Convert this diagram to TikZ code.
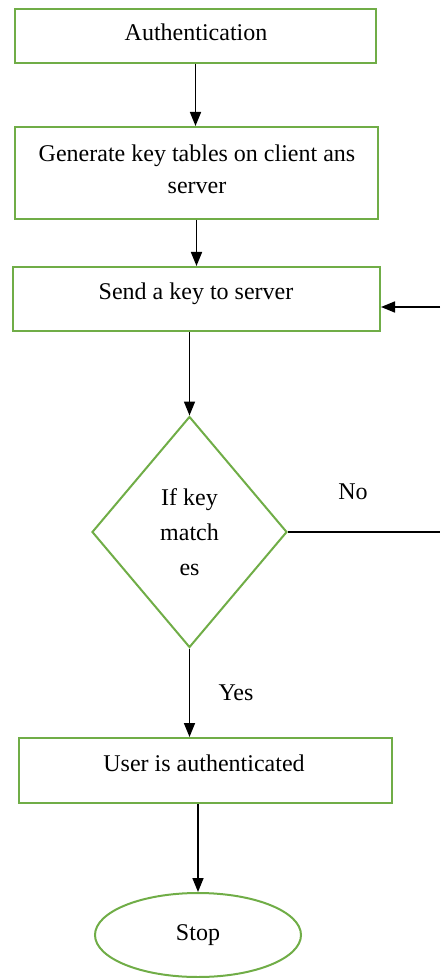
\documentclass[tikz,border=0pt]{standalone}
\usepackage{fontspec}
\setmainfont{Liberation Serif}
\usetikzlibrary{shapes.geometric,arrows.meta}
\definecolor{boxgreen}{RGB}{112,173,71}
\begin{document}
\begin{tikzpicture} [x=0.5pt,y=-0.5pt,
    font=\fontsize{12}{16}\selectfont,
    block/.style={draw=boxgreen,line width=1pt,rectangle,align=center,inner sep=2pt},
    flow/.style={line width=0.8pt,black,-{Triangle[length=7pt,width=5.5pt]}}]
    \useasboundingbox (0,0) rectangle (440,978);
    \node[block,minimum width=180.5pt,minimum height=27pt] (auth) at (195.5,36) {};
    \node (authtxt) at (196,32) {Authentication};
    \node[block,minimum width=181.5pt,minimum height=46pt] (gen) at (196.5,173) {};
    \node[align=center] (gentxt) at (197,169) {Generate key tables on client ans\\server};
    \node[block,minimum width=183.5pt,minimum height=32pt] (send) at (196.5,299) {};
    \node (sendtxt) at (196,294) {Send a key to server};
    \node[draw=boxgreen,line width=1pt,diamond,inner sep=0pt,minimum width=97.5pt,minimum height=115.5pt,align=center,
        font=\fontsize{12}{17.5}\selectfont] (match) at (189.5,532) {If key\\match\\es};
    \node[block,minimum width=186.5pt,minimum height=32.5pt] (user) at (205.5,770.5) {};
    \node (usertxt) at (204,763) {User is authenticated};
    \node[draw=boxgreen,line width=1pt,ellipse,minimum width=103pt,minimum height=42pt] (stop) at (198,935) {Stop};
    \node (no) at (353,492) {No};
    \node (yes) at (236,693) {Yes};
    \coordinate (noend) at (440,532);
    \coordinate (back) at (440,307);
    \draw[flow] (auth.south) -- (auth.south |- gen.north);
    \draw[flow] (gen.south) -- (gen.south |- send.north);
    \draw[flow] (match.north |- send.south) -- (match.north);
    \draw[flow] (match.south) -- (match.south |- user.north);
    \draw[flow] (stop.north |- user.south) -- (stop.north);
    \draw[line width=0.8pt] (match.east) -- (noend);
    \draw[flow] (back) -- (send.east |- back);
\end{tikzpicture}
\end{document}
